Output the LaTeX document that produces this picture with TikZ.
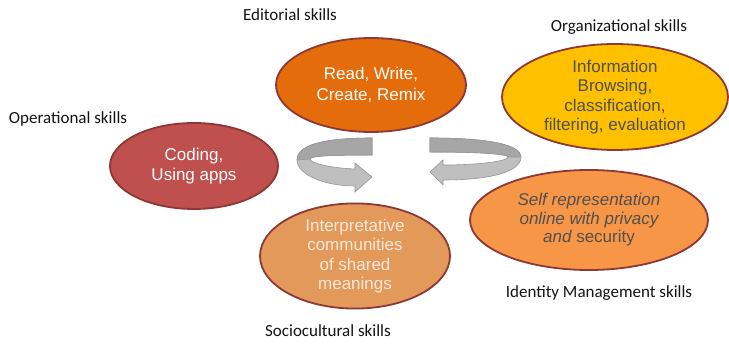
\documentclass[tikz,border=0pt]{standalone}
\usepackage{fontspec}
\setmainfont{Carlito}
\newfontfamily\arialfont{Liberation Sans}
\usetikzlibrary{shapes.geometric}

\begin{document}
\begin{tikzpicture}[x=1pt, y=-1pt,
  skill/.style={ellipse, draw=my_border, line width=1.8pt, inner sep=0pt, align=center, font=\arialfont\fontsize{17}{20.5}\selectfont},
  skill_label/.style={anchor=base, text=my_black, font=\fontsize{17}{20}\selectfont},
  loop_arrow/.style={fill=my_lightgrey, draw=my_edgegrey, line width=0.6pt},
  loop_top/.style={fill=my_darkgrey, draw=my_edgegrey, line width=0.6pt}]
\definecolor{my_border}{RGB}{140,56,54}
\definecolor{my_orange}{RGB}{228,108,10}
\definecolor{my_yellow}{RGB}{255,192,0}
\definecolor{my_red}{RGB}{192,80,77}
\definecolor{my_peach}{RGB}{247,150,70}
\definecolor{my_tan}{RGB}{227,153,89}
\definecolor{my_cream}{RGB}{253,233,217}
\definecolor{my_darktext}{RGB}{80,80,80}
\definecolor{my_black}{RGB}{20,20,20}
\definecolor{my_lightgrey}{RGB}{191,191,191}
\definecolor{my_darkgrey}{RGB}{166,166,166}
\definecolor{my_edgegrey}{RGB}{150,150,150}
\useasboundingbox (0,0) rectangle (729,344);
% circular arrows in the middle
\draw[loop_arrow] (372,138) .. controls (320,138) and (297,146) .. (297,160) .. controls (297,175) and (325,186) .. (355,186) -- (355,192) -- (372,177) -- (355,163) -- (355,169) .. controls (330,168) and (310,163) .. (310,159) .. controls (310,156) and (330,155) .. (372,155) -- cycle;
\draw[loop_top] (372,138) .. controls (320,138) and (297,146) .. (297,160) -- (310,159) .. controls (310,156) and (330,155) .. (372,155) -- cycle;
\draw[loop_arrow] (430,138) .. controls (490,138) and (521,145) .. (521,157) .. controls (521,172) and (490,180) .. (443,180) -- (443,185) -- (430,172) -- (443,160) -- (443,165) .. controls (480,165) and (508,161) .. (508,157) .. controls (508,154) and (480,152) .. (430,152) -- cycle;
\draw[loop_top] (430,138) .. controls (490,138) and (521,145) .. (521,157) -- (508,157) .. controls (508,154) and (480,152) .. (430,152) -- cycle;
% skill ellipses
\node[skill, fill=my_orange, text=white, minimum width=190pt, minimum height=94pt] (editorial) at (371,85) {Read, Write,\\Create, Remix};
\node[skill, fill=my_yellow, text=my_darktext, minimum width=226pt, minimum height=106pt, font=\arialfont\fontsize{17}{19.5}\selectfont] (organizational) at (615,97) {Information\\Browsing,\\classification,\\filtering, evaluation};
\node[skill, fill=my_red, text=white, minimum width=168pt, minimum height=86pt] (operational) at (194,166) {Coding,\\Using apps};
\node[skill, fill=my_peach, text=my_darktext, minimum width=238pt, minimum height=100pt, font=\arialfont\fontsize{17}{18.5}\selectfont] (identity) at (589,220) {{\itshape Self representation}\\{\itshape online with privacy}\\{\itshape and} security};
\node[skill, fill=my_tan, text=my_cream, minimum width=190pt, minimum height=102pt, font=\arialfont\fontsize{17}{19.5}\selectfont] (sociocultural) at (355,256) {Interpretative\\communities\\of shared\\meanings};
% labels
\node[skill_label] (editorial_label) at (290,21) {Editorial skills};
\node[skill_label] (organizational_label) at (619,32) {Organizational skills};
\node[skill_label] (operational_label) at (68,124) {Operational skills};
\node[skill_label] (identity_label) at (599,298) {Identity Management skills};
\node[skill_label] (sociocultural_label) at (328,337) {Sociocultural skills};
\end{tikzpicture}
\end{document}
